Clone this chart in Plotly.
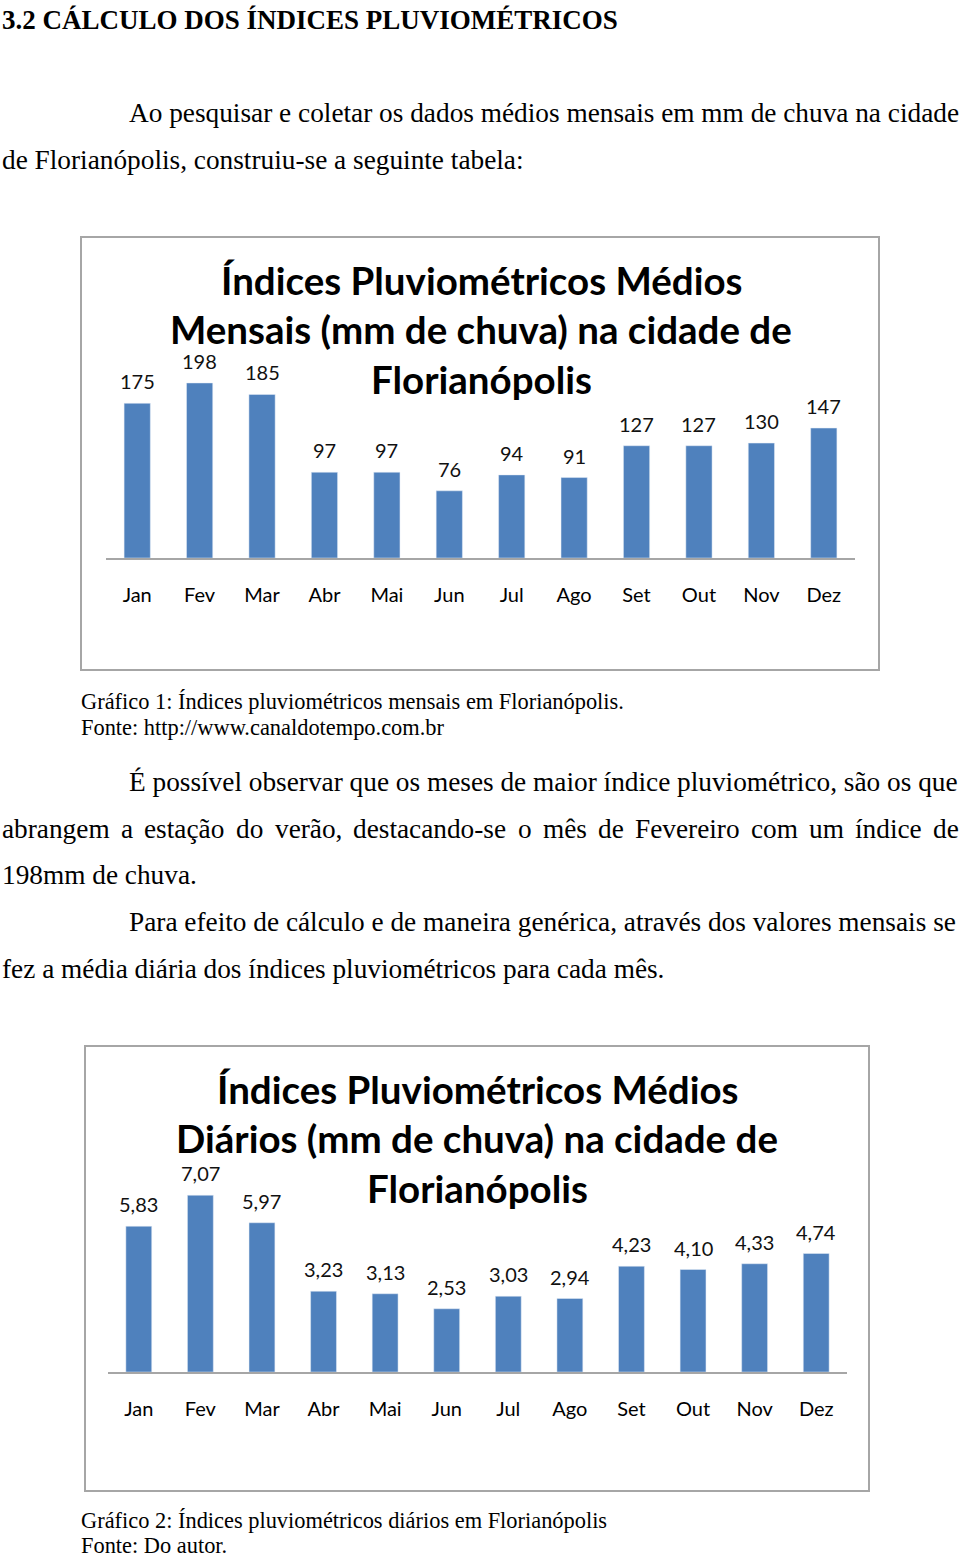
import plotly.graph_objects as go

W, H = 960, 1557

meses = ["Jan", "Fev", "Mar", "Abr", "Mai", "Jun", "Jul", "Ago", "Set", "Out", "Nov", "Dez"]
mensal = [175, 198, 185, 97, 97, 76, 94, 91, 127, 127, 130, 147]
diario = [5.83, 7.07, 5.97, 3.23, 3.13, 2.53, 3.03, 2.94, 4.23, 4.10, 4.33, 4.74]

titulo1 = ["Índices Pluviométricos Médios", "Mensais (mm de chuva) na cidade de", "Florianópolis"]
titulo2 = ["Índices Pluviométricos Médios", "Diários (mm de chuva) na cidade de", "Florianópolis"]

BAR = "#4F81BD"
CHART_FONT = "Lato"
SERIF = "Liberation Serif"
BODY = 27.3

# Times / Liberation Serif advance widths (1/1000 em) used to justify one line
TW = {"a": 444, "b": 500, "c": 444, "d": 500, "e": 444, "f": 333, "g": 500, "h": 500,
      "i": 278, "l": 278, "m": 778, "n": 500, "o": 500, "r": 333, "s": 389, "t": 278,
      "u": 500, "v": 500, "F": 556, ",": 250, "-": 333, "ã": 444, "ç": 444, "ê": 444,
      "í": 278}


def px(x):
    return x / W


def py(y):
    return 1 - y / H


fig = go.Figure()
fig.add_trace(go.Bar(x=meses, y=mensal, marker_color=BAR, xaxis="x", yaxis="y",
                     hoverinfo="x+y"))
fig.add_trace(go.Bar(x=meses, y=diario, marker_color=BAR, xaxis="x2", yaxis="y2",
                     hoverinfo="x+y"))

ann = []

# data labels
for m, v in zip(meses, mensal):
    ann.append(dict(x=m, y=v, xref="x", yref="y", text=str(v), showarrow=False,
                    yshift=22, borderpad=0,
                    font=dict(family=CHART_FONT, size=20, color="#111")))
for m, v in zip(meses, diario):
    ann.append(dict(x=m, y=v, xref="x2", yref="y2", text=f"{v:.2f}".replace(".", ","),
                    showarrow=False, yshift=22, borderpad=0,
                    font=dict(family=CHART_FONT, size=20, color="#111")))

# chart titles
for t, y in zip(titulo1, [280, 329, 379]):
    ann.append(dict(x=px(481), y=py(y), xref="paper", yref="paper", text=f"<b>{t}</b>",
                    showarrow=False, xanchor="center", yanchor="middle", borderpad=0,
                    font=dict(family=CHART_FONT, size=38.5, color="#000")))
for t, y in zip(titulo2, [1089, 1138, 1188]):
    ann.append(dict(x=px(477), y=py(y), xref="paper", yref="paper", text=f"<b>{t}</b>",
                    showarrow=False, xanchor="center", yanchor="middle", borderpad=0,
                    font=dict(family=CHART_FONT, size=38.5, color="#000")))


def txt(s, x, y, size=BODY, bold=False, anchor="left", yanchor="middle"):
    ann.append(dict(x=px(x), y=py(y), xref="paper", yref="paper",
                    text=f"<b>{s}</b>" if bold else s, showarrow=False,
                    xanchor=anchor, yanchor=yanchor, borderpad=0,
                    font=dict(family=SERIF, size=size, color="#000")))


txt("3.2 CÁLCULO DOS ÍNDICES PLUVIOMÉTRICOS", 1, 20, size=27, bold=True)
txt("Ao pesquisar e coletar os dados médios mensais em mm de chuva na cidade", 128, 113)
txt("de Florianópolis, construiu-se a seguinte tabela:", 1, 160)

txt("Gráfico 1: Índices pluviométricos mensais em Florianópolis.", 80, 701, size=22.4)
txt("Fonte: http://www.canaldotempo.com.br", 80, 727, size=22.4)

txt("É possível observar que os meses de maior índice pluviométrico, são os que", 128, 782)

# justified line
words = ["abrangem", "a", "estação", "do", "verão,", "destacando-se", "o", "mês", "de",
         "Fevereiro", "com", "um", "índice", "de"]
wpx = [sum(TW[c] for c in w_) * BODY / 1000 for w_ in words]
left, right = 1, 958
gap = (right - left - sum(wpx)) / (len(words) - 1)
xpos = left
for w_, wp in zip(words, wpx):
    txt(w_, xpos, 829)
    xpos += wp + gap

txt("198mm de chuva.", 1, 875)
txt("Para efeito de cálculo e de maneira genérica, através dos valores mensais se", 128, 922)
txt("fez a média diária dos índices pluviométricos para cada mês.", 1, 969)

txt("Gráfico 2: Índices pluviométricos diários em Florianópolis", 80, 1520, size=22.4)
txt("Fonte: Do autor.", 80, 1545, size=22.4)

shapes = [
    dict(type="rect", xref="paper", yref="paper", x0=px(81), x1=px(879), y0=py(670), y1=py(237),
         line=dict(color="#A6A6A6", width=2), fillcolor="rgba(0,0,0,0)"),
    dict(type="rect", xref="paper", yref="paper", x0=px(85), x1=px(869), y0=py(1491), y1=py(1046),
         line=dict(color="#A6A6A6", width=2), fillcolor="rgba(0,0,0,0)"),
]

xcommon = dict(showline=True, linecolor="#A6A6A6", linewidth=1.5, ticks="", showgrid=False,
               zeroline=False, tickfont=dict(family=CHART_FONT, size=20, color="#000"),
               ticklabelstandoff=18, fixedrange=True)
ycommon = dict(visible=False, showgrid=False, zeroline=False, fixedrange=True)

fig.update_layout(
    width=W, height=H, margin=dict(l=0, r=0, t=0, b=0, pad=0),
    paper_bgcolor="white", plot_bgcolor="white", showlegend=False,
    bargap=0.58,
    xaxis=dict(domain=[px(106), px(855)], anchor="y", **xcommon),
    yaxis=dict(domain=[py(558), py(337)], range=[0, 250], anchor="x", **ycommon),
    xaxis2=dict(domain=[px(108), px(847)], anchor="y2", **xcommon),
    yaxis2=dict(domain=[py(1372), py(1147)], range=[0, 9], anchor="x2", **ycommon),
    annotations=ann, shapes=shapes,
)

fig.write_html("out.html")
